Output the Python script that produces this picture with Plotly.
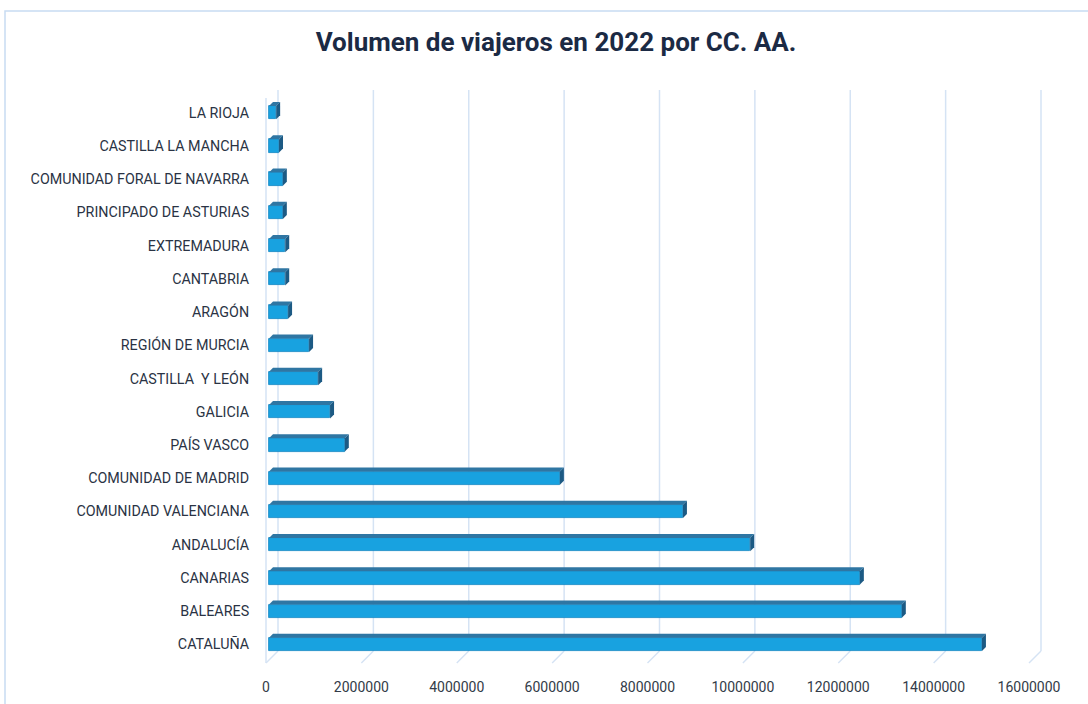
import plotly.graph_objects as go

# ---------------- data (bottom to top) ----------------
regions = [
    "CATALUÑA", "BALEARES", "CANARIAS", "ANDALUCÍA", "COMUNIDAD VALENCIANA",
    "COMUNIDAD DE MADRID", "PAÍS VASCO", "GALICIA", "CASTILLA  Y LEÓN",
    "REGIÓN DE MURCIA", "ARAGÓN", "CANTABRIA", "EXTREMADURA",
    "PRINCIPADO DE ASTURIAS", "COMUNIDAD FORAL DE NAVARRA",
    "CASTILLA LA MANCHA", "LA RIOJA",
]
viajeros = [
    14950000, 13270000, 12390000, 10090000, 8680000,
    6100000, 1590000, 1280000, 1030000,
    840000, 400000, 340000, 340000,
    290000, 290000, 210000, 150000,
]
tick_values = [0, 2000000, 4000000, 6000000, 8000000, 10000000, 12000000, 14000000, 16000000]
tick_labels = [str(v) for v in tick_values]
title_text = "Volumen de viajeros en 2022 por CC. AA."

# ---------------- layout geometry (pixels) ----------------
W, H = 1088, 704
ML, MR, MT, MB = 266, 59, 96, 43
PW, PH = W - ML - MR, H - MT - MB
XMAX = 16000000
n = len(regions)
px_x = XMAX / PW            # data units per pixel (x)
px_y = n / PH               # category units per pixel (y)

BAR_W = 0.40                # front face thickness (category units)
DEPTH = 4                   # bar depth, px
OFF = 3                     # bar depth offset from front plane, px
WALL_DX, WALL_DY = 12, 10   # chart floor depth, px

FACE = "#18A2E0"
EDGE = "#1285C2"
TOP = "#2F76A3"
SIDE = "#1C5A84"
GRID = "#D5E3F4"
LABEL = "#2A3344"

base = OFF * px_x
fig = go.Figure()
fig.add_trace(go.Bar(
    y=list(range(n)), x=viajeros, base=[base] * n, orientation="h",
    width=BAR_W, marker=dict(color=FACE, line=dict(color=EDGE, width=0.8)),
    hoverinfo="x+text", hovertext=regions, showlegend=False,
))

shapes = []


def px2paper_x(p):
    return (p - ML) / PW


def px2paper_y(p):
    return (H - MB - p) / PH


# chart border
shapes.append(dict(type="rect", xref="paper", yref="paper",
                   x0=px2paper_x(5), x1=px2paper_x(W + 10),
                   y0=px2paper_y(H + 10), y1=px2paper_y(11),
                   line=dict(color="#C8DCF2", width=1.5), layer="below"))

# back wall gridlines + floor diagonals
for tv in tick_values:
    xp = tv / XMAX
    xb = xp + WALL_DX / PW
    shapes.append(dict(type="line", xref="paper", yref="paper",
                       x0=xb, x1=xb, y0=WALL_DY / PH, y1=px2paper_y(90),
                       line=dict(color=GRID, width=1.5), layer="below"))
    shapes.append(dict(type="line", xref="paper", yref="paper",
                       x0=xp, x1=xb, y0=-2 / PH, y1=WALL_DY / PH,
                       line=dict(color=GRID, width=1.5), layer="below"))
# front-left wall edge
shapes.append(dict(type="line", xref="paper", yref="paper",
                   x0=0, x1=0, y0=-2 / PH, y1=px2paper_y(98),
                   line=dict(color=GRID, width=1.5), layer="below"))

# 3D faces of bars
dx = DEPTH * px_x
dy = DEPTH * px_y
for i, v in enumerate(viajeros):
    x0 = base
    x1 = base + v
    yt = i + BAR_W / 2
    yb = i - BAR_W / 2
    top = f"M {x0},{yt} L {x1},{yt} L {x1 + dx},{yt + dy} L {x0 + dx},{yt + dy} Z"
    side = f"M {x1},{yb} L {x1 + dx},{yb + dy} L {x1 + dx},{yt + dy} L {x1},{yt} Z"
    shapes.append(dict(type="path", xref="x", yref="y", path=top,
                       fillcolor=TOP, line=dict(width=0), layer="above"))
    shapes.append(dict(type="path", xref="x", yref="y", path=side,
                       fillcolor=SIDE, line=dict(width=0), layer="above"))

fig.update_layout(
    width=W, height=H,
    margin=dict(l=ML, r=MR, t=MT, b=MB, autoexpand=False),
    paper_bgcolor="white", plot_bgcolor="rgba(0,0,0,0)",
    title=dict(text=f"<b>{title_text}</b>", x=556 / W, xref="container", xanchor="center",
               y=1 - 42 / H, yref="container", yanchor="middle",
               font=dict(family="Roboto, Arial", size=26, color="#1B2A44")),
    xaxis=dict(range=[0, XMAX], tickvals=tick_values, ticktext=tick_labels,
               showgrid=False, zeroline=False, showline=False,
               ticks="outside", ticklen=13, tickcolor="rgba(0,0,0,0)",
               tickfont=dict(family="Roboto, Arial", size=14, color="#333B48")),
    yaxis=dict(range=[-0.5, n - 0.5], tickvals=list(range(n)), ticktext=regions,
               showgrid=False, zeroline=False, showline=False,
               ticks="outside", ticklen=13, tickcolor="rgba(0,0,0,0)",
               tickfont=dict(family="Roboto, Arial", size=14.3, color=LABEL)),
    shapes=shapes,
    bargap=0,
)

fig.write_html("out.html", config={"displayModeBar": False},
               post_script="document.body.style.margin='0';")
